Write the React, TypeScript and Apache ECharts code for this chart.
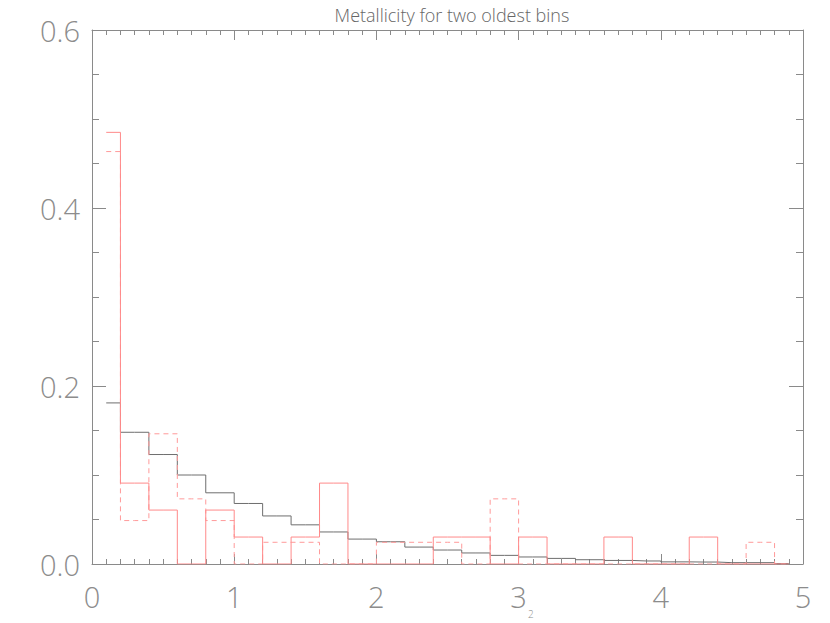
import React, { useEffect, useRef } from "react";
import * as echarts from "echarts";

// Bin centres (bin width 0.2)
const binCenters = [
  0.1, 0.3, 0.5, 0.7, 0.9, 1.1, 1.3, 1.5, 1.7, 1.9, 2.1, 2.3, 2.5, 2.7, 2.9,
  3.1, 3.3, 3.5, 3.7, 3.9, 4.1, 4.3, 4.5, 4.7, 4.9,
];

// Black histogram
const blackValues = [
  0.181, 0.148, 0.123, 0.1, 0.08, 0.068, 0.054, 0.044, 0.036, 0.028, 0.025,
  0.019, 0.0157, 0.0124, 0.0097, 0.0079, 0.0063, 0.0048, 0.004, 0.0034,
  0.0024, 0.0022, 0.0015, 0.0015, 0.0005,
];

// Red solid histogram
const redSolidValues = [
  0.485, 0.0909, 0.0606, 0, 0.0606, 0.0303, 0, 0.0303, 0.0909, 0, 0, 0,
  0.0303, 0.0303, 0, 0.0303, 0, 0, 0.0303, 0, 0, 0.0303, 0, 0, 0,
];

// Red dashed histogram
const redDashedValues = [
  0.4634, 0.0488, 0.1463, 0.0732, 0.0488, 0, 0.0244, 0.0244, 0, 0, 0.0244,
  0.0244, 0.0244, 0, 0.0732, 0, 0, 0, 0, 0, 0, 0, 0, 0.0244, 0,
];

const titleText = "Metallicity for two oldest bins";
const xAxisNameFragment = "2";
const xTicks = { min: 0, max: 5, interval: 1 };
const yTicks = { min: 0, max: 0.6, interval: 0.2 };

const axisColor = "#8a8a8a";
const labelColor = "#8c8c8c";
const labelFont = "'Open Sans', 'DejaVu Sans', sans-serif";

export default function App() {
  const ref = useRef<HTMLDivElement>(null);

  useEffect(() => {
    if (!ref.current) return;
    const chart = echarts.init(ref.current, null, { renderer: "svg" });
    const toPairs = (vals: number[]) => binCenters.map((x, i) => [x, vals[i]]);

    const xCommon = {
      type: "value" as const,
      min: xTicks.min,
      max: xTicks.max,
      interval: xTicks.interval,
      axisLine: { show: true, onZero: false, lineStyle: { color: axisColor, width: 1 } },
      axisTick: { show: true, inside: true, length: 10, lineStyle: { color: axisColor } },
      minorTick: { show: true, splitNumber: 10, length: 5, lineStyle: { color: axisColor } },
      splitLine: { show: false },
      minorSplitLine: { show: false },
    };
    const yCommon = {
      type: "value" as const,
      min: yTicks.min,
      max: yTicks.max,
      interval: yTicks.interval,
      axisLine: { show: true, onZero: false, lineStyle: { color: axisColor, width: 1 } },
      axisTick: { show: true, inside: true, length: 14, lineStyle: { color: axisColor } },
      minorTick: { show: true, splitNumber: 4, length: 7, lineStyle: { color: axisColor } },
      splitLine: { show: false },
      minorSplitLine: { show: false },
    };

    chart.setOption({
      animation: false,
      backgroundColor: "#ffffff",
      title: {
        text: titleText,
        left: 447,
        textAlign: "center",
        top: 1,
        textStyle: {
          fontFamily: labelFont,
          fontSize: 18,
          fontWeight: 300,
          color: "#666",
        },
      },
      grid: { left: 92, right: 27, top: 30, bottom: 59 },
      xAxis: [
        {
          ...xCommon,
          position: "bottom",
          axisLabel: {
            show: true,
            margin: 18,
            fontFamily: labelFont,
            fontWeight: 300,
            fontSize: 29,
            color: labelColor,
            formatter: (v: number) => String(Math.round(v)),
          },
        },
        { ...xCommon, position: "top", axisLabel: { show: false } },
      ],
      yAxis: [
        {
          ...yCommon,
          position: "left",
          axisLabel: {
            show: true,
            margin: 12,
            fontFamily: labelFont,
            fontWeight: 300,
            fontSize: 29,
            color: labelColor,
            formatter: (v: number) => v.toFixed(1),
          },
        },
        { ...yCommon, position: "right", axisLabel: { show: false } },
      ],
      graphic: [
        {
          type: "text",
          left: 528,
          top: 609,
          style: {
            text: xAxisNameFragment,
            fontFamily: labelFont,
            fontWeight: 300,
            fontSize: 10,
            fill: labelColor,
          },
        },
      ],
      series: [
        {
          type: "line",
          step: "middle",
          showSymbol: false,
          data: toPairs(blackValues),
          lineStyle: { color: "#6e6e6e", width: 1 },
          z: 2,
        },
        {
          type: "line",
          step: "middle",
          showSymbol: false,
          data: toPairs(redDashedValues),
          lineStyle: { color: "#ff9a9a", width: 1, type: [5, 4] },
          z: 3,
        },
        {
          type: "line",
          step: "middle",
          showSymbol: false,
          data: toPairs(redSolidValues),
          lineStyle: { color: "#ff8a8a", width: 1 },
          z: 4,
        },
      ],
    });

    return () => chart.dispose();
  }, []);

  return (
    <div
      ref={ref}
      style={{ position: "fixed", left: 0, top: 0, width: 830, height: 623 }}
    />
  );
}
